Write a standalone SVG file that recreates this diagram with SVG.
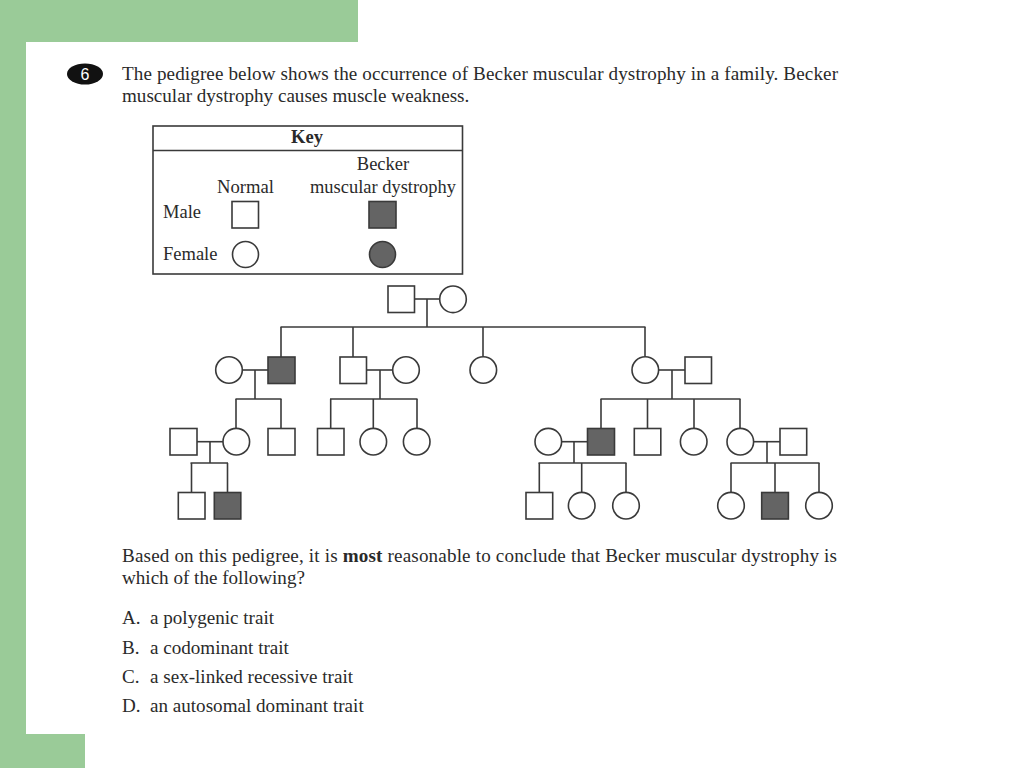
<svg xmlns="http://www.w3.org/2000/svg" width="1024" height="768" viewBox="0 0 1024 768">
<style>
.t{font-family:"Liberation Serif","Times New Roman",serif;font-size:18.5px;fill:#2a2a2a}
.q{font-size:19.1px}
.b{font-weight:bold}
.s{fill:#fff;stroke:#3a3a3a;stroke-width:1.6}
.a{fill:#646464;stroke:#3a3a3a;stroke-width:1.6}
.c line{stroke:#3a3a3a;stroke-width:1.6}
</style>
<rect width="1024" height="768" fill="#fff"/>
<g id="bg" fill="#9acb98">
<rect x="0" y="0" width="358" height="42"/>
<rect x="0" y="0" width="26" height="768"/>
<rect x="0" y="734" width="85" height="34"/>
</g>
<g id="header">
<ellipse cx="85" cy="74" rx="18" ry="10.5" fill="#111"/>
<text x="85" y="80" text-anchor="middle" font-family="Liberation Sans,Arial,sans-serif" font-size="16" fill="#fff">6</text>
<text class="t q" x="122" y="80" textLength="716" lengthAdjust="spacing">The pedigree below shows the occurrence of Becker muscular dystrophy in a family. Becker</text>
<text class="t q" x="122" y="102">muscular dystrophy causes muscle weakness.</text>
</g>
<g id="key">
<rect x="153" y="126" width="309.5" height="148" fill="#fff" stroke="#3a3a3a" stroke-width="1.6"/>
<line x1="153" y1="150.5" x2="462.5" y2="150.5" stroke="#3a3a3a" stroke-width="1.6"/>
<text class="t b" x="307" y="143" text-anchor="middle">Key</text>
<text class="t" x="383" y="170" text-anchor="middle">Becker</text>
<text class="t" x="217" y="193" textLength="57" lengthAdjust="spacingAndGlyphs">Normal</text>
<text class="t" x="310" y="193" textLength="146" lengthAdjust="spacingAndGlyphs">muscular dystrophy</text>
<text class="t" x="163" y="218">Male</text>
<text class="t" x="163" y="260">Female</text>
<rect class="s" x="232" y="201.5" width="26.5" height="26.5"/>
<rect class="a" x="369" y="201.5" width="27" height="26.5"/>
<circle class="s" cx="245.5" cy="254.5" r="13"/>
<circle class="a" cx="382.5" cy="254.5" r="13"/>
</g>
<g id="connectors" class="c">
<line x1="414.5" y1="299" x2="439.5" y2="299"/>
<line x1="427" y1="299" x2="427" y2="327"/>
<line x1="280.5" y1="327" x2="645.5" y2="327"/>
<line x1="281" y1="327" x2="281" y2="357"/>
<line x1="353" y1="327" x2="353" y2="357"/>
<line x1="483" y1="327" x2="483" y2="356.5"/>
<line x1="645" y1="327" x2="645" y2="356.5"/>
<line x1="242.5" y1="370" x2="268" y2="370"/>
<line x1="255" y1="370" x2="255" y2="399"/>
<line x1="366.5" y1="370" x2="392.5" y2="370"/>
<line x1="380" y1="370" x2="380" y2="399"/>
<line x1="658.5" y1="370" x2="685" y2="370"/>
<line x1="672" y1="370" x2="672" y2="399"/>
<line x1="235.5" y1="399" x2="281.5" y2="399"/>
<line x1="236" y1="399" x2="236" y2="428.5"/>
<line x1="281" y1="399" x2="281" y2="428.5"/>
<line x1="330" y1="399" x2="417.5" y2="399"/>
<line x1="330.7" y1="399" x2="330.7" y2="428.5"/>
<line x1="373.3" y1="399" x2="373.3" y2="428.5"/>
<line x1="417" y1="399" x2="417" y2="428.5"/>
<line x1="600.5" y1="399" x2="740.5" y2="399"/>
<line x1="601" y1="399" x2="601" y2="428.5"/>
<line x1="647.5" y1="399" x2="647.5" y2="428.5"/>
<line x1="694" y1="399" x2="694" y2="428.5"/>
<line x1="740" y1="399" x2="740" y2="428.5"/>
<line x1="197" y1="441.7" x2="223" y2="441.7"/>
<line x1="210" y1="441.7" x2="210" y2="463"/>
<line x1="561.5" y1="441.7" x2="587.5" y2="441.7"/>
<line x1="574" y1="441.7" x2="574" y2="463"/>
<line x1="753.5" y1="441.7" x2="780" y2="441.7"/>
<line x1="767" y1="441.7" x2="767" y2="463"/>
<line x1="190.5" y1="463" x2="228" y2="463"/>
<line x1="191.5" y1="463" x2="191.5" y2="492.5"/>
<line x1="227.5" y1="463" x2="227.5" y2="492.5"/>
<line x1="538.5" y1="463" x2="626.5" y2="463"/>
<line x1="539.3" y1="463" x2="539.3" y2="492.5"/>
<line x1="581.7" y1="463" x2="581.7" y2="492.3"/>
<line x1="626" y1="463" x2="626" y2="492.3"/>
<line x1="730.5" y1="463" x2="819.5" y2="463"/>
<line x1="731" y1="463" x2="731" y2="492.3"/>
<line x1="775" y1="463" x2="775" y2="492.5"/>
<line x1="819" y1="463" x2="819" y2="492.3"/>
</g>
<g id="I1"><rect class="s" x="388" y="286" width="26.5" height="26.5"/></g>
<g id="I2"><circle class="s" cx="453" cy="299.3" r="13.3"/></g>
<g id="II1"><circle class="s" cx="229" cy="370" r="13.3"/></g>
<g id="II2"><rect class="a" x="268" y="357" width="27" height="26.5"/></g>
<g id="II3"><rect class="s" x="340" y="357" width="26.5" height="26.5"/></g>
<g id="II4"><circle class="s" cx="406" cy="370" r="13.3"/></g>
<g id="II5"><circle class="s" cx="483.3" cy="370" r="13.3"/></g>
<g id="II6"><circle class="s" cx="645.3" cy="370" r="13.3"/></g>
<g id="II7"><rect class="s" x="685" y="357" width="26.5" height="26.5"/></g>
<g id="III1"><rect class="s" x="170" y="428.5" width="27" height="26.5"/></g>
<g id="III2"><circle class="s" cx="236.3" cy="441.7" r="13.3"/></g>
<g id="III3"><rect class="s" x="268" y="428.5" width="27" height="26.5"/></g>
<g id="III4"><rect class="s" x="317.5" y="428.5" width="26.5" height="26.5"/></g>
<g id="III5"><circle class="s" cx="373.3" cy="441.7" r="13.3"/></g>
<g id="III6"><circle class="s" cx="416.7" cy="441.7" r="13.3"/></g>
<g id="III7"><circle class="s" cx="548.3" cy="441.7" r="13.3"/></g>
<g id="III8"><rect class="a" x="587.5" y="428.5" width="27" height="26.5"/></g>
<g id="III9"><rect class="s" x="634.3" y="428.5" width="26.5" height="26.5"/></g>
<g id="III10"><circle class="s" cx="693.7" cy="441.7" r="13.3"/></g>
<g id="III11"><circle class="s" cx="740.3" cy="441.7" r="13.3"/></g>
<g id="III12"><rect class="s" x="780" y="428.5" width="26.7" height="26.5"/></g>
<g id="IV1"><rect class="s" x="178.3" y="492.5" width="26.7" height="26.5"/></g>
<g id="IV2"><rect class="a" x="214.3" y="492.5" width="26.5" height="26.5"/></g>
<g id="IV3"><rect class="s" x="526" y="492.5" width="26.7" height="26.5"/></g>
<g id="IV4"><circle class="s" cx="581.7" cy="505.7" r="13.3"/></g>
<g id="IV5"><circle class="s" cx="626" cy="505.7" r="13.3"/></g>
<g id="IV6"><circle class="s" cx="731" cy="505.7" r="13.3"/></g>
<g id="IV7"><rect class="a" x="761.7" y="492.5" width="26.7" height="26.5"/></g>
<g id="IV8"><circle class="s" cx="819" cy="505.7" r="13.3"/></g>
<g id="question">
<text class="t q" x="122" y="562" textLength="715" lengthAdjust="spacing">Based on this pedigree, it is <tspan class="b">most</tspan> reasonable to conclude that Becker muscular dystrophy is</text>
<text class="t q" x="122" y="584">which of the following?</text>
<text class="t q" x="122" y="624">A.</text><text class="t q" x="150" y="624">a polygenic trait</text>
<text class="t q" x="122" y="654">B.</text><text class="t q" x="150" y="654">a codominant trait</text>
<text class="t q" x="122" y="683">C.</text><text class="t q" x="150" y="683">a sex-linked recessive trait</text>
<text class="t q" x="122" y="712">D.</text><text class="t q" x="150" y="712">an autosomal dominant trait</text>
</g>
</svg>
